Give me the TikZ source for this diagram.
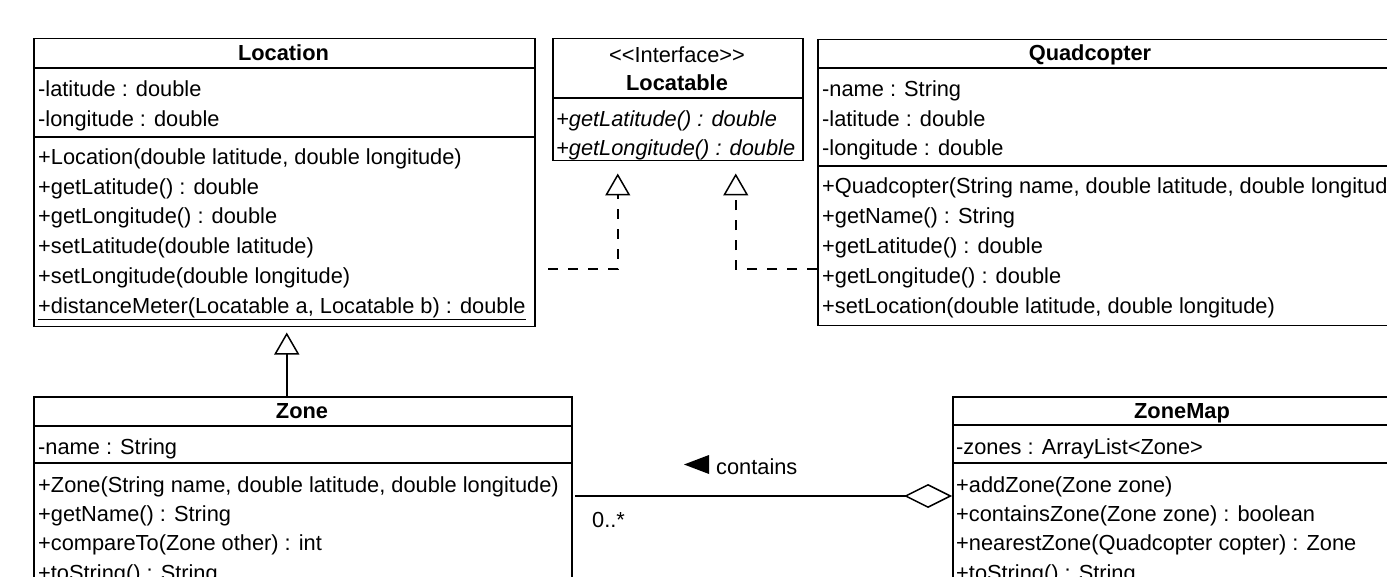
\documentclass[tikz,border=0pt]{standalone}
\usepackage{fontspec}
\setmainfont{Liberation Sans}
\usetikzlibrary{arrows.meta,calc}
\begin{document}
\begin{tikzpicture}[x=1pt,y=-1pt,
  box/.style={draw, line width=1.5pt, anchor=north west, inner sep=0pt},
  sepline/.style={line width=1.5pt},
  row/.style={anchor=west, inner sep=0pt, font=\fontsize{21.8pt}{30pt}\selectfont, text height=19.5pt, text depth=4.5pt},
  irow/.style={row, font=\fontsize{21.8pt}{30pt}\selectfont\itshape},
  title/.style={inner sep=0pt, font=\fontsize{21.8pt}{30pt}\selectfont\bfseries, text height=19.5pt, text depth=4.5pt},
  stereo/.style={inner sep=0pt, font=\fontsize{21.8pt}{30pt}\selectfont, text height=19.5pt, text depth=4.5pt},
  lab/.style={row},
  gen/.style={line width=1.5pt, -{Triangle[open, length=22pt, width=25pt, fill=white]}},
  real/.style={line width=1.5pt, dash pattern=on 10pt off 10pt, -{Triangle[open, length=22pt, width=25pt, fill=white]}},
  assoc/.style={line width=1.5pt, -{Diamond[open, length=48pt, width=24pt, fill=white]}}
]
\useasboundingbox (0,0) rectangle (1387,577);
\clip (0,0) rectangle (1387,577);

% ---------------- Location ----------------
\node[box, minimum width=501pt, minimum height=288pt] (loc) at (33,38) {};
\draw[sepline] (loc.west |- 0,68) -- (loc.east |- 0,68);
\draw[sepline] (loc.west |- 0,137) -- (loc.east |- 0,137);
\node[title] (loct) at (283.5,53) {Location};
\node[row] (l1) at (38,89) {-latitude : double};
\node[row] (l2) at (38,119) {-longitude : double};
\node[row] (l3) at (38,157) {+Location(double latitude, double longitude)};
\node[row] (l4) at (38,187) {+getLatitude() : double};
\node[row] (l5) at (38,216) {+getLongitude() : double};
\node[row] (l6) at (38,246) {+setLatitude(double latitude)};
\node[row] (l7) at (38,276) {+setLongitude(double longitude)};
\node[row] (l8) at (38,306) {\underline{+distanceMeter(Locatable a, Locatable b) : double}};

% ---------------- Locatable ----------------
\node[box, minimum width=250pt, minimum height=122pt] (lct) at (552,38) {};
\draw[sepline] (lct.west |- 0,98) -- (lct.east |- 0,98);
\node[stereo] (lcts) at (677,55) {<{}<Interface>{}>};
\node[title] (lctt) at (677,83) {Locatable};
\node[irow] (i1) at (556,119) {+getLatitude() : double};
\node[irow] (i2) at (556,148) {+getLongitude() : double};

% ---------------- Quadcopter ----------------
\node[box, minimum width=620pt, minimum height=286pt] (quad) at (817,39) {};
\draw[sepline] (quad.west |- 0,68) -- (quad.east |- 0,68);
\draw[sepline] (quad.west |- 0,166) -- (quad.east |- 0,166);
\node[title] (quadt) at (1090,53.5) {Quadcopter};
\node[row] (q1) at (822,89) {-name : String};
\node[row] (q2) at (822,119) {-latitude : double};
\node[row] (q3) at (822,148) {-longitude : double};
\node[row] (q4) at (822,186) {+Quadcopter(String name, double latitude, double longitude)};
\node[row] (q5) at (822,216) {+getName() : String};
\node[row] (q6) at (822,246) {+getLatitude() : double};
\node[row] (q7) at (822,276) {+getLongitude() : double};
\node[row] (q8) at (822,306) {+setLocation(double latitude, double longitude)};

% ---------------- Zone ----------------
\node[box, minimum width=538pt, minimum height=300pt] (zone) at (33,396) {};
\draw[sepline] (zone.west |- 0,426) -- (zone.east |- 0,426);
\draw[sepline] (zone.west |- 0,463) -- (zone.east |- 0,463);
\node[title] (zonet) at (302,411) {Zone};
\node[row] (z1) at (38,447) {-name : String};
\node[row] (z2) at (38,485) {+Zone(String name, double latitude, double longitude)};
\node[row] (z3) at (38,514) {+getName() : String};
\node[row] (z4) at (38,543) {+compareTo(Zone other) : int};
\node[row] (z5) at (38,573) {+toString() : String};

% ---------------- ZoneMap ----------------
\node[box, minimum width=500pt, minimum height=300pt] (zmap) at (952,396) {};
\draw[sepline] (zmap.west |- 0,425) -- (zmap.east |- 0,425);
\draw[sepline] (zmap.west |- 0,463) -- (zmap.east |- 0,463);
\node[title] (zmapt) at (1182,410.5) {ZoneMap};
\node[row] (m1) at (956,447) {-zones : ArrayList<Zone>};
\node[row] (m2) at (956,485) {+addZone(Zone zone)};
\node[row] (m3) at (956,514) {+containsZone(Zone zone) : boolean};
\node[row] (m4) at (956,543) {+nearestZone(Quadcopter copter) : Zone};
\node[row] (m5) at (956,573) {+toString() : String};

% ---------------- Connectors ----------------
% generalization Zone -> Location
\coordinate (gtip) at ([xshift=2.5pt,yshift=-5pt]loc.south);
\draw[gen] (gtip |- zone.north) -- (gtip);

% realization Location -> Locatable
\coordinate (rlstart) at (548,269);
\coordinate (rltip) at ([xshift=-60pt,yshift=-12pt]lct.south);
\draw[real] (rlstart) -| (rltip);

% realization Quadcopter -> Locatable
\coordinate (rrtip) at ([xshift=58pt,yshift=-12pt]lct.south);
\draw[real] (quad.west |- 0,269) -| (rrtip);

% aggregation ZoneMap <>-- Zone
\coordinate (astart) at (575,496);
\draw[assoc] (astart) -- (zmap.west |- astart);
\node[lab] (contains) at (716,467) {contains};
\fill (684,464.5) -- (709,455) -- (709,474) -- cycle;
\node[lab] (mult) at (592,520) {0..*};
\end{tikzpicture}
\end{document}
